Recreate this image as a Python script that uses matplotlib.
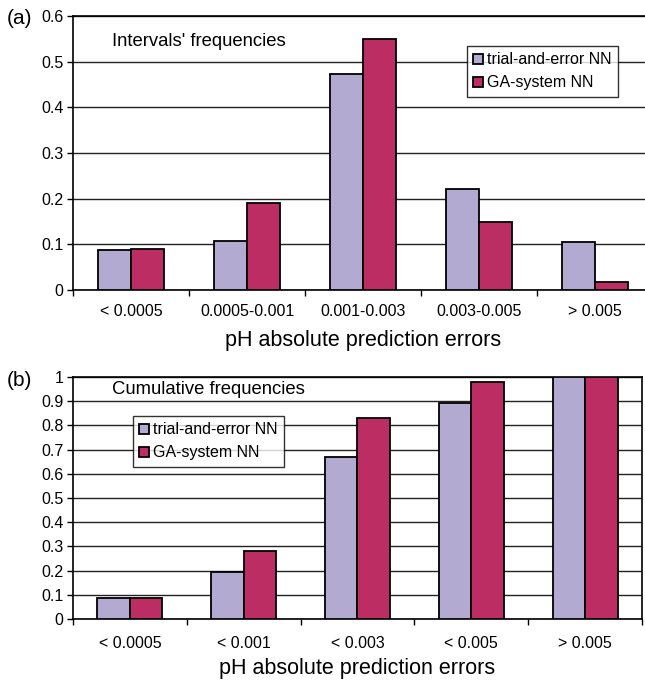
import matplotlib
matplotlib.use("Agg")
import matplotlib.pyplot as plt
import numpy as np
from matplotlib.ticker import FuncFormatter
from matplotlib.patches import Patch

plt.rcParams['font.family'] = ['Liberation Sans', 'DejaVu Sans']

series_names = ["trial-and-error NN", "GA-system NN"]
colors = ["#b3aad1", "#bc2d63"]

cats_a = ["< 0.0005", "0.0005-0.001", "0.001-0.003", "0.003-0.005", "> 0.005"]
trial_a = [0.088, 0.107, 0.474, 0.221, 0.106]
ga_a = [0.090, 0.190, 0.550, 0.148, 0.018]

cats_b = ["< 0.0005", "< 0.001", "< 0.003", "< 0.005", "> 0.005"]
trial_b = [0.088, 0.194, 0.669, 0.892, 1.0]
ga_b = [0.088, 0.282, 0.829, 0.979, 1.0]

fig = plt.figure(figsize=(6.45, 6.82), dpi=100)
W, H = 645, 682

def make_ax(box, cats, s1, s2, ymax, ystep, title, title_y, legend_box,
            panel, panel_y, xpad, labelpad):
    l, t, r, b = box
    ax = fig.add_axes([l / W, 1 - b / H, (r - l) / W, (b - t) / H])
    x = np.arange(len(cats)) + 0.5
    bw = 0.285
    ax.bar(x - bw / 2, s1, bw, color=colors[0], edgecolor="black", linewidth=1.3, zorder=3)
    ax.bar(x + bw / 2, s2, bw, color=colors[1], edgecolor="black", linewidth=1.3, zorder=3)
    ax.set_xlim(0, len(cats))
    ax.set_ylim(0, ymax)
    yt = np.round(np.arange(0, ymax + ystep / 2, ystep), 3)
    ax.set_yticks(yt)
    ax.yaxis.set_major_formatter(FuncFormatter(lambda v, p: "%g" % v))
    ax.grid(axis="y", color="#222222", linewidth=1.0, zorder=0)
    ax.set_axisbelow(True)
    ax.set_xticks(np.arange(0, len(cats) + 1))
    ax.set_xticklabels([])
    ax.set_xticks(x, minor=True)
    ax.set_xticklabels(cats, minor=True, fontsize=11.5)
    ax.tick_params(axis="x", which="major", direction="out", length=4, width=1)
    ax.tick_params(axis="x", which="minor", length=0, pad=xpad)
    ax.tick_params(axis="y", direction="out", length=4, width=1, labelsize=11.5, pad=3)
    for s in ax.spines.values():
        s.set_linewidth(1.2)
        s.set_color("black")
    ax.set_xlabel("pH absolute prediction errors", fontsize=15.5, labelpad=labelpad)
    ax.text((112 - l) / (r - l), 1 - (title_y - t) / (b - t),
            title, transform=ax.transAxes, fontsize=13.3, va="center", ha="left")
    handles = [Patch(facecolor=colors[i], edgecolor="black", linewidth=1.3, label=series_names[i])
               for i in range(2)]
    lx0, ly0, lx1, ly1 = legend_box
    leg = ax.legend(handles=handles, loc="upper left",
                    bbox_to_anchor=((lx0 - l) / (r - l), 1 - (ly0 - t) / (b - t)),
                    fontsize=11.5, frameon=True, fancybox=False, borderpad=0.4,
                    handlelength=0.6, handleheight=0.6, handletextpad=0.25,
                    labelspacing=0.5, borderaxespad=0)
    leg.get_frame().set_edgecolor("black")
    leg.get_frame().set_linewidth(1.0)
    fig.text(7 / W, 1 - panel_y / H, panel, fontsize=15, va="center", ha="left")
    return ax

ax1 = make_ax((73, 16, 653, 290), cats_a, trial_a, ga_a, 0.6, 0.1,
              "Intervals' frequencies", 41,
              (467, 46, 621, 96), "(a)", 19, 10, 8)
ax2 = make_ax((73, 377, 642, 619), cats_b, trial_b, ga_b, 1.0, 0.1,
              "Cumulative frequencies", 390,
              (133, 416, 288, 466), "(b)", 381, 12, 5)

fig.savefig("out.png", dpi=100)
